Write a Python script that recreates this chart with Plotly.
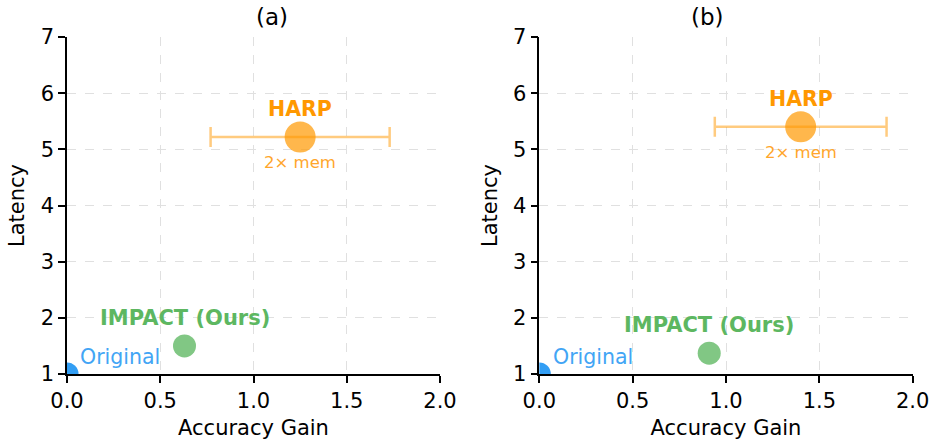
import plotly.graph_objects as go
from plotly.subplots import make_subplots

# ---- data ----
panel_titles = ["(a)", "(b)"]
methods = ["Original", "IMPACT (Ours)", "HARP"]
acc_gain_a = [0.0, 0.63, 1.25]
latency_a = [1.0, 1.5, 5.22]
harp_err_a = 0.48
acc_gain_b = [0.0, 0.91, 1.40]
latency_b = [1.0, 1.37, 5.40]
harp_err_b = 0.46
x_ticks = [0.0, 0.5, 1.0, 1.5, 2.0]
x_tick_labels = ["0.0", "0.5", "1.0", "1.5", "2.0"]
y_ticks = [1, 2, 3, 4, 5, 6, 7]
y_tick_labels = ["1", "2", "3", "4", "5", "6", "7"]
harp_note = "2× mem"

# ---- style ----
FONT = "DejaVu Sans"
marker_colors = ["#2196F3", "#4CAF50", "#FF9800"]
marker_opac = [0.92, 0.7, 0.7]
marker_sizes = [23, 23, 31]
text_colors = ["#42A5F5", "#5DB761", "#FF9800"]

W, H = 931, 441
fig = make_subplots(rows=1, cols=2)

panels = [(acc_gain_a, latency_a, harp_err_a), (acc_gain_b, latency_b, harp_err_b)]
for p, (xs, ys, err) in enumerate(panels):
    col = p + 1
    for i, m in enumerate(methods):
        fig.add_trace(go.Scatter(
            x=[xs[i]], y=[ys[i]], mode="markers", name=m, showlegend=False,
            marker=dict(size=marker_sizes[i], color=marker_colors[i],
                        opacity=marker_opac[i], line=dict(width=0)),
            cliponaxis=True), row=1, col=col)
    # HARP error bar drawn above its marker
    fig.add_trace(go.Scatter(
        x=[xs[2]], y=[ys[2]], mode="markers", showlegend=False,
        marker=dict(size=1, opacity=0),
        error_x=dict(type="data", array=[err], symmetric=True,
                     color="rgba(255,152,0,0.5)", thickness=2.5, width=10)),
        row=1, col=col)

    xref = "x" if p == 0 else "x2"
    yref = "y" if p == 0 else "y2"
    # labels
    fig.add_annotation(x=xs[2], y=ys[2] + 0.5, xref=xref, yref=yref, text="<b>HARP</b>",
                       showarrow=False, font=dict(family=FONT, size=20.5, color=text_colors[2]))
    fig.add_annotation(x=xs[2], y=ys[2] - 0.45, xref=xref, yref=yref, text=harp_note,
                       showarrow=False, font=dict(family=FONT, size=16.5, color="#FFA62B"))
    fig.add_annotation(x=xs[1], y=ys[1] + 0.5, xref=xref, yref=yref, text="<b>IMPACT (Ours)</b>",
                       showarrow=False, font=dict(family=FONT, size=21, color=text_colors[1]))
    fig.add_annotation(x=xs[0] + 0.06, y=ys[0] + 0.31, xref=xref, yref=yref, text="Original",
                       xanchor="left", showarrow=False,
                       font=dict(family=FONT, size=20.5, color=text_colors[0]))

x_domains = [[67 / W, 440 / W], [539.3 / W, 912.7 / W]]
y_domain = [1 - 374 / H, 1 - 37 / H]
title_x = [253.5, 726]

axis_common = dict(
    showline=True, linecolor="black", linewidth=1.6, mirror=False,
    ticks="outside", ticklen=7, tickwidth=1.6, tickcolor="black",
    showgrid=True, gridcolor="#e0e0e0", gridwidth=1, griddash="dash",
    zeroline=False, tickfont=dict(family=FONT, size=21, color="black"),
    automargin=False,
)
for p in range(2):
    sx = "" if p == 0 else "2"
    fig.layout["xaxis" + sx].update(
        domain=x_domains[p], range=[0, 2.0], tickvals=x_ticks, ticktext=x_tick_labels,
        title=dict(text="Accuracy Gain", font=dict(family=FONT, size=21, color="black"), standoff=8),
        anchor="y" + sx, **axis_common)
    fig.layout["yaxis" + sx].update(
        domain=y_domain, range=[1, 7], tickvals=y_ticks, ticktext=y_tick_labels,
        title=dict(text="Latency", font=dict(family=FONT, size=21, color="black"), standoff=10),
        anchor="x" + sx, **axis_common)
    fig.add_annotation(x=title_x[p] / W, y=1 - 17 / H, xref="paper", yref="paper",
                       text=panel_titles[p], showarrow=False, yanchor="middle",
                       font=dict(family=FONT, size=23, color="black"))

fig.update_layout(
    width=W, height=H, margin=dict(l=0, r=0, t=0, b=0),
    paper_bgcolor="white", plot_bgcolor="white",
    font=dict(family=FONT, color="black"),
)
fig.write_html("out.html", config={"displayModeBar": False},
               post_script="document.body.style.margin='0';document.body.style.overflow='hidden';")
